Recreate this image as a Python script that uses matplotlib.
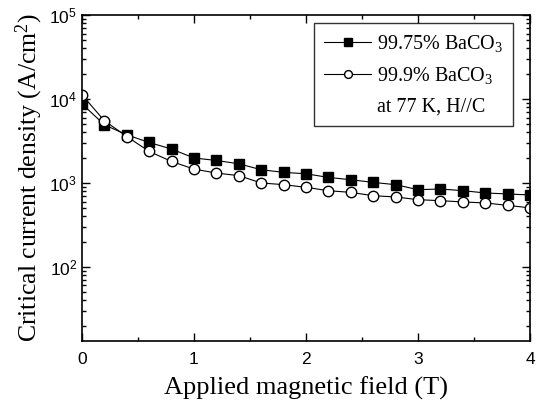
import numpy as np
import matplotlib
matplotlib.use("Agg")
import matplotlib.pyplot as plt
from matplotlib.ticker import MultipleLocator, LogLocator

plt.rcParams['font.family'] = ['Liberation Serif', 'DejaVu Serif']
plt.rcParams['mathtext.fontset'] = 'custom'
plt.rcParams['mathtext.rm'] = 'Liberation Serif'
plt.rcParams['mathtext.it'] = 'Liberation Serif:italic'

# Data
field_T = [0.0, 0.2, 0.4, 0.6, 0.8, 1.0, 1.2, 1.4, 1.6, 1.8, 2.0,
           2.2, 2.4, 2.6, 2.8, 3.0, 3.2, 3.4, 3.6, 3.8, 4.0]
jc_9975 = [8750, 4920, 3740, 3030, 2530, 1980, 1850, 1690, 1435, 1335, 1285,
           1162, 1091, 1014, 952, 830, 846, 808, 759, 738, 718]
jc_999 = [11200, 5500, 3570, 2370, 1800, 1460, 1310, 1220, 998, 953, 886,
          807, 771, 704, 680, 631, 614, 593, 577, 540, 504]
label_9975 = "99.75% BaCO$_3$"
label_999 = "99.9% BaCO$_3$"
note = "at 77 K, H//C"
xticks = [0, 1, 2, 3, 4]

fig = plt.figure(figsize=(5.44, 4.07), dpi=100)
ax = fig.add_axes([0.1507, 0.1629, 0.8236, 0.8002])

ax.plot(field_T, jc_9975, '-', color='black', lw=0.8, marker='s', ms=7,
        mfc='black', mec='black', label=label_9975)
ax.plot(field_T, jc_999, '-', color='black', lw=0.8, marker='o', ms=7.5,
        mfc='white', mec='black', mew=1.0, label=label_999)
ax.plot([], [], ' ', label=note)

ax.set_yscale('log')
ax.set_xlim(0, 4)
ax.set_ylim(10**1.12, 1e5)
ax.set_xticks(xticks)
ax.set_xticklabels([str(v) for v in xticks])
ax.xaxis.set_minor_locator(MultipleLocator(0.5))
ax.yaxis.set_major_locator(LogLocator(base=10, numticks=10))
ax.yaxis.set_minor_locator(LogLocator(base=10, subs=np.arange(2, 10), numticks=20))

ax.tick_params(which='both', direction='in', top=True, right=True,
               labelfontfamily='Liberation Sans', labelsize=12.5, width=1.0)
ax.tick_params(which='major', length=6)
ax.tick_params(which='minor', length=3)
ax.tick_params(axis='x', pad=8)
for s in ax.spines.values():
    s.set_linewidth(1.2)

ax.set_xlabel("Applied magnetic field (T)", fontsize=19, labelpad=7)
ax.set_ylabel("Critical current density (A/cm$^2$)", fontsize=18.5, labelpad=3)

leg = ax.legend(loc='upper right', bbox_to_anchor=(0.962, 0.976),
                borderaxespad=0, fontsize=14.5, frameon=True, fancybox=False,
                edgecolor='black', handlelength=2.3, handletextpad=0.3,
                borderpad=0.5, labelspacing=0.55, markerscale=0.75)
leg.get_frame().set_linewidth(1.0)

fig.savefig("out.png", dpi=100)
